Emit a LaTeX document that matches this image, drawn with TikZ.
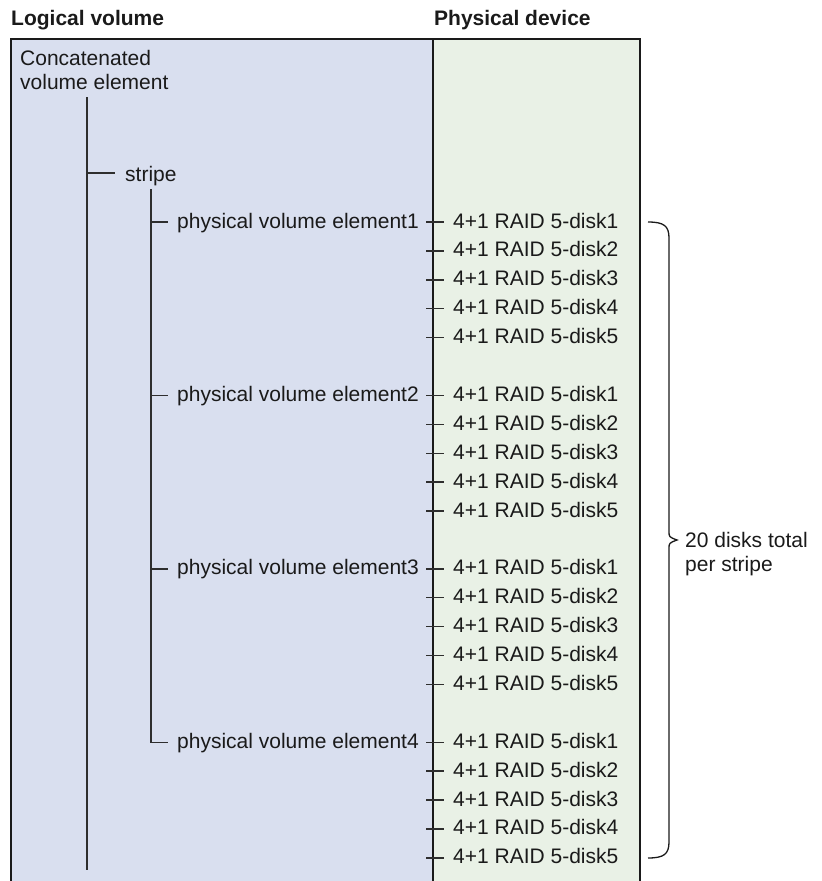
\documentclass[tikz,border=0pt]{standalone}
\usepackage{fontspec}
\setmainfont{Liberation Sans}
\definecolor{ink}{HTML}{1A1A1A}
\definecolor{treec}{HTML}{2E2E2E}
\definecolor{leftbg}{HTML}{D9DFEF}
\definecolor{rightbg}{HTML}{E9F1E6}
\begin{document}
\begin{tikzpicture}[x=1pt,y=-1pt,
  txt/.style={anchor=base west, inner sep=0pt, font=\fontsize{21}{24}\selectfont, text=ink},
  ttl/.style={txt, font=\fontsize{21}{24}\selectfont\bfseries},
  frame/.style={line width=2pt, draw=ink},
  tree/.style={line width=1.4pt, draw=treec},
  brace/.style={line width=1.3pt, draw=ink}]
\useasboundingbox (0,0) rectangle (822,881);
% backgrounds
\fill[leftbg] (11,39) rectangle (433,881);
\fill[rightbg] (433,39) rectangle (640,881);
\draw[frame] (11,881) -- (11,39) -- (640,39) -- (640,881);
\draw[frame] (433,39) -- (433,881);
% titles
\node[ttl] (tl) at (11,25) {Logical volume};
\node[ttl] (tp) at (434,25) {Physical device};
% concatenated
\node[txt] (c1) at (20,65) {Concatenated};
\node[txt] (c2) at (20,89) {volume element};
\coordinate (ctop) at (87,97);
\coordinate (cbot) at (87,870);
\draw[tree] (ctop) -- (cbot);
% stripe
\coordinate (sj) at (87,173);
\coordinate (st) at (115,173);
\draw[tree] (sj) -- (st);
\node[txt] (stripe) at (125,181) {stripe};
\coordinate (stop) at (151,189);
\coordinate (scorner) at (151,742.2);
\coordinate (send) at (168,742.2);
\draw[tree] (stop) -- (scorner) -- (send);
% elements and disks
\foreach \g in {0,1,2,3}{
  \pgfmathsetmacro{\ey}{222+6*\g*28.9}
  \pgfmathtruncatemacro{\gn}{\g+1}
  \ifnum\g<3
    \draw[tree] (151,\ey) -- (168,\ey);
  \fi
  \node[txt] (pve\gn) at (177,\ey+6) {physical volume element\gn};
  \foreach \d in {1,...,5}{
    \pgfmathsetmacro{\dy}{222+(6*\g+\d-1)*28.9}
    \draw[tree] (426,\dy) -- (444,\dy);
    \node[txt] (disk\gn-\d) at (453,\dy+6) {4+1 RAID 5-disk\d};
  }
}
% brace
\coordinate (b1) at (648,222);
\coordinate (b2) at (648,858);
\coordinate (btip) at (677,540);
\draw[brace] (b1) .. controls (664,222) and (669,226) .. (669,238) -- (669,531)
  .. controls (669,537) .. (btip) .. controls (669,543) .. (669,549)
  -- (669,842) .. controls (669,854) and (664,858) .. (b2);
\node[txt] (tot1) at (685,547) {20 disks total};
\node[txt] (tot2) at (685,571) {per stripe};
\end{tikzpicture}
\end{document}
